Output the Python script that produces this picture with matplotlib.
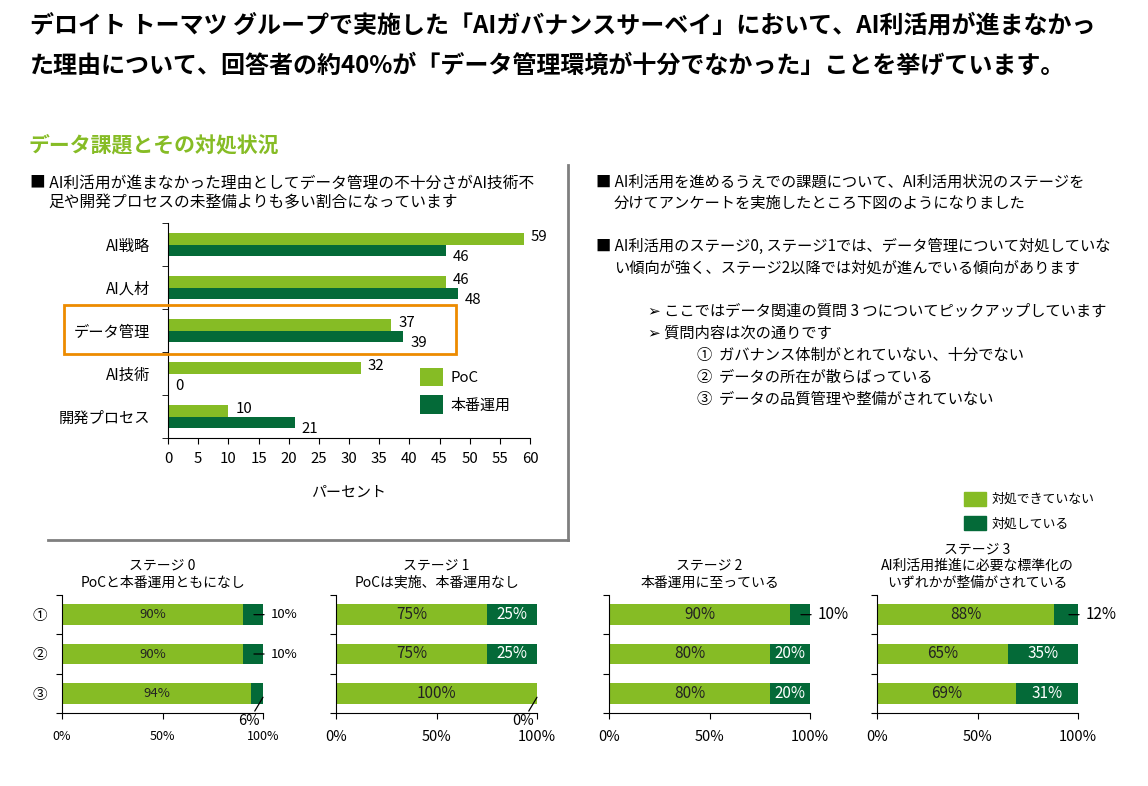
import matplotlib
matplotlib.use('Agg')
import matplotlib.pyplot as plt
from matplotlib.patches import Rectangle
from matplotlib.lines import Line2D

plt.rcParams['font.family'] = ['Noto Sans CJK JP', 'DejaVu Sans']

LIGHT = '#86BC25'
DARK = '#046A38'
ORANGE = '#ED8B00'

# ---- data ----
categories = ['AI戦略', 'AI人材', 'データ管理', 'AI技術', '開発プロセス']
poc = [59, 46, 37, 32, 10]
prod = [46, 48, 39, 0, 21]

stage_titles = ['ステージ 0\nPoCと本番運用ともになし',
                'ステージ 1\nPoCは実施、本番運用なし',
                'ステージ 2\n本番運用に至っている',
                'ステージ 3\nAI利活用推進に必要な標準化の\nいずれかが整備がされている']
not_handled = [[90, 90, 94], [75, 75, 100], [90, 80, 80], [88, 65, 69]]
handled = [[10, 10, 6], [25, 25, 0], [10, 20, 20], [12, 35, 31]]
question_labels = ['①', '②', '③']

W, H = 1148, 786
fig = plt.figure(figsize=(W / 100, H / 100), dpi=100)


def fx(px):
    return px / W


def fy(py):
    return 1 - py / H


# ---- texts ----
fig.text(fx(30), fy(26), 'デロイト トーマツ グループで実施した「AIガバナンスサーベイ」において、AI利活用が進まなかっ',
         fontsize=17.3, fontweight='bold', va='center')
fig.text(fx(30), fy(66), 'た理由について、回答者の約40%が「データ管理環境が十分でなかった」ことを挙げています。',
         fontsize=17.3, fontweight='bold', va='center')
fig.text(fx(28), fy(145), 'データ課題とその対処状況', fontsize=15, fontweight='bold',
         color=LIGHT, va='center')

fs_body = 11.3
fig.text(fx(30), fy(183), '■ AI利活用が進まなかった理由としてデータ管理の不十分さがAI技術不',
         fontsize=fs_body, va='center')
fig.text(fx(48), fy(203), '足や開発プロセスの未整備よりも多い割合になっています',
         fontsize=fs_body, va='center')

fs_r = 11
fig.text(fx(596), fy(182), '■ AI利活用を進めるうえでの課題について、AI利活用状況のステージを',
         fontsize=fs_r, va='center')
fig.text(fx(614), fy(203), '分けてアンケートを実施したところ下図のようになりました',
         fontsize=fs_r, va='center')
fig.text(fx(596), fy(246), '■ AI利活用のステージ0, ステージ1では、データ管理について対処していな',
         fontsize=fs_r, va='center')
fig.text(fx(614), fy(268), 'い傾向が強く、ステージ2以降では対処が進んでいる傾向があります',
         fontsize=fs_r, va='center')
fig.text(fx(648), fy(311), '➢ ここではデータ関連の質問 3 つについてピックアップしています',
         fontsize=fs_r, va='center')
fig.text(fx(648), fy(333), '➢ 質問内容は次の通りです', fontsize=fs_r, va='center')
fig.text(fx(697), fy(355), '①  ガバナンス体制がとれていない、十分でない', fontsize=fs_r, va='center')
fig.text(fx(697), fy(377), '②  データの所在が散らばっている', fontsize=fs_r, va='center')
fig.text(fx(697), fy(399), '③  データの品質管理や整備がされていない', fontsize=fs_r, va='center')

# grey frame lines
fig.add_artist(Line2D([fx(568), fx(568)], [fy(165), fy(540)], color='#7F7F7F', lw=2))
fig.add_artist(Line2D([fx(48), fx(568)], [fy(540), fy(540)], color='#7F7F7F', lw=2))

# ---- top bar chart ----
ax = fig.add_axes([fx(168), fy(438), fx(530) - fx(168), fy(223) - fy(438)])
h = 0.27
ys = list(range(len(categories)))
ax.barh([y - h / 2 for y in ys], poc, height=h, color=LIGHT, label='PoC')
ax.barh([y + h / 2 for y in ys], prod, height=h, color=DARK, label='本番運用')
for y, v in zip(ys, poc):
    ax.annotate(str(v), (v, y - h / 2), xytext=(5, 1), textcoords='offset points',
                va='center', ha='left', fontsize=10.8)
for y, v in zip(ys, prod):
    ax.annotate(str(v), (v, y + h / 2), xytext=(5, -5), textcoords='offset points',
                va='center', ha='left', fontsize=10.8)
ax.set_ylim(4.5, -0.5)
ax.set_xlim(0, 60)
ax.set_xticks(range(0, 61, 5))
ax.set_yticks(ys, labels=categories)
ax.set_yticks([y - 0.5 for y in range(6)], minor=True)
ax.tick_params(axis='y', which='major', length=0, pad=13, labelsize=11)
ax.tick_params(axis='y', which='minor', length=4, direction='out')
ax.tick_params(axis='x', length=4, direction='out', labelsize=10.8, pad=6)
for s in ['top', 'right']:
    ax.spines[s].set_visible(False)
ax.set_xlabel('パーセント', fontsize=10.8, labelpad=14)
ax.legend(loc='lower left', bbox_to_anchor=(0.66, 0.05), frameon=False, fontsize=10.8,
          handlelength=1.5, handleheight=1.5, labelspacing=0.6, handletextpad=0.5)

fig.add_artist(Rectangle((fx(64), fy(354)), fx(456) - fx(64), fy(305) - fy(354),
                         fill=False, edgecolor=ORANGE, lw=2))

# ---- bottom stage charts ----
lefts = [62, 336, 609, 877]
for i in range(4):
    small = (i == 0)
    fs = 9.5 if small else 11
    fs_tick = 9 if small else 10.5
    a = fig.add_axes([fx(lefts[i]), fy(713), fx(201), fy(595) - fy(713)])
    rows = [0, 1, 2]
    bh = 0.53
    a.barh(rows, not_handled[i], height=bh, color=LIGHT)
    a.barh(rows, handled[i], left=not_handled[i], height=bh, color=DARK)
    for r in rows:
        nv, hv = not_handled[i][r], handled[i][r]
        a.text(nv / 2, r, f'{nv}%', ha='center', va='center', fontsize=fs, color='#222222')
        if hv >= 15:
            a.text(nv + hv / 2, r, f'{hv}%', ha='center', va='center', fontsize=fs, color='white')
        elif r < 2:
            a.annotate(f'{hv}%', (95.5, r), xytext=(104, r), ha='left', va='center',
                       fontsize=fs, annotation_clip=False,
                       arrowprops=dict(arrowstyle='-', color='black', lw=0.9,
                                       shrinkA=3, shrinkB=0))
        else:
            a.annotate(f'{hv}%', (100, r + 0.1), xytext=(93, 2.7), ha='center', va='center',
                       fontsize=10.5, annotation_clip=False,
                       arrowprops=dict(arrowstyle='-', color='black', lw=0.9,
                                       shrinkA=0, shrinkB=0))
    a.set_xlim(0, 100)
    a.set_ylim(2.5, -0.5)
    a.set_xticks([0, 50, 100], labels=['0%', '50%', '100%'])
    a.set_yticks([-0.5, 0.5, 1.5, 2.5], labels=[])
    a.tick_params(axis='y', which='major', length=4, direction='out')
    a.tick_params(axis='x', length=4, direction='out', labelsize=fs_tick, pad=8)
    if i == 0:
        a.set_yticks(rows, labels=question_labels, minor=True)
        a.tick_params(axis='y', which='minor', length=0, pad=11, labelsize=10.5)
    for s in ['top', 'right']:
        a.spines[s].set_visible(False)
    a.set_title(stage_titles[i], fontsize=10, linespacing=1.25, pad=6)

handles = [Rectangle((0, 0), 1, 1, color=LIGHT), Rectangle((0, 0), 1, 1, color=DARK)]
fig.legend(handles, ['対処できていない', '対処している'], loc='upper left',
           bbox_to_anchor=(fx(952), fy(480)), frameon=False, fontsize=9.3,
           handlelength=1.7, handleheight=1.3, labelspacing=0.8, handletextpad=0.5)

fig.savefig('out.png', dpi=100)
